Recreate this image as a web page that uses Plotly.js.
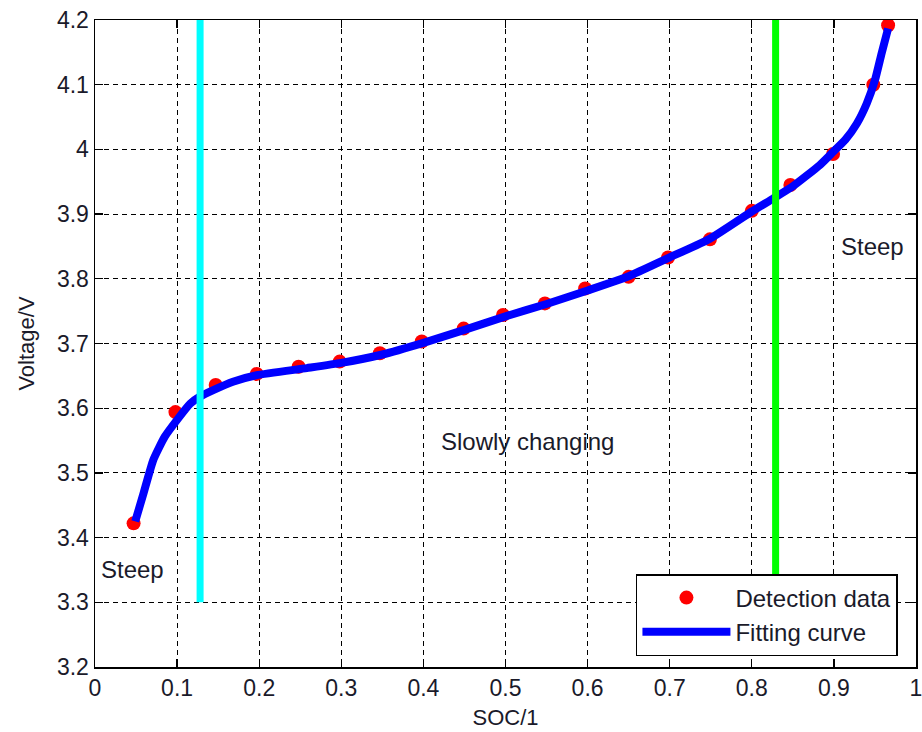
<!DOCTYPE html>
<html>
<head>
<meta charset="utf-8">
<script src="https://cdn.plot.ly/plotly-3.0.1.min.js"></script>
<style>html,body{margin:0;padding:0;background:#fff;}#chart{width:922px;height:732px;}</style>
</head>
<body>
<div id="chart"></div>
<script>
// Detection data (SOC, voltage)
var socData = [0.047,0.098,0.147,0.197,0.248,0.298,0.347,0.398,0.449,0.497,0.548,0.597,0.650,0.698,0.749,0.800,0.847,0.899,0.948,0.966];
var vData   = [3.422,3.594,3.636,3.653,3.664,3.672,3.685,3.703,3.723,3.744,3.762,3.785,3.803,3.833,3.861,3.905,3.945,3.993,4.100,4.192];

// Fitting curve
var socFit = [0.049,0.059,0.071,0.085,0.100,0.116,0.128,0.144,0.168,0.197,0.258,0.300,0.350,0.400,0.450,0.500,0.550,0.600,0.650,0.698,0.749,0.800,0.826,0.850,0.883,0.899,0.914,0.928,0.940,0.950,0.958,0.966];
var vFit   = [3.425,3.468,3.520,3.556,3.582,3.607,3.618,3.628,3.641,3.651,3.662,3.670,3.683,3.701,3.721,3.742,3.761,3.782,3.804,3.832,3.862,3.904,3.924,3.943,3.976,3.996,4.015,4.040,4.071,4.107,4.148,4.187];

// Region boundary lines
var cyanX = [0.128, 0.128];
var greenX = [0.829, 0.829];
var boundaryY = [3.3, 4.2];

// Labels
var legendNames = ["Detection data", "Fitting curve"];
var regionLabels = ["Steep", "Slowly changing", "Steep"];
var labelX = [0.046, 0.527, 0.947];
var labelY = [3.350, 3.548, 3.850];

var xTicks = [0,0.1,0.2,0.3,0.4,0.5,0.6,0.7,0.8,0.9,1];
var xTickText = ["0","0.1","0.2","0.3","0.4","0.5","0.6","0.7","0.8","0.9","1"];
var yTicks = [3.2,3.3,3.4,3.5,3.6,3.7,3.8,3.9,4.0,4.1,4.2];
var yTickText = ["3.2","3.3","3.4","3.5","3.6","3.7","3.8","3.9","4","4.1","4.2"];

var FONT = "Liberation Sans, Arial, sans-serif";
var TXT = "#1a1a2a";

var traces = [
  {x: socData, y: vData, mode: "markers", type: "scatter", name: legendNames[0],
   marker: {color: "#ff0000", size: 14, symbol: "circle"}},
  {x: socFit, y: vFit, mode: "lines", type: "scatter", name: legendNames[1],
   line: {color: "#0000ff", width: 8, shape: "spline", smoothing: 0.5}},
  {x: cyanX, y: boundaryY, mode: "lines", type: "scatter", showlegend: false,
   line: {color: "#00ffff", width: 7}},
  {x: greenX, y: boundaryY, mode: "lines", type: "scatter", showlegend: false,
   line: {color: "#00ff00", width: 7}}
];

var annotations = regionLabels.map(function(t, i){
  return {x: labelX[i], y: labelY[i], xref: "x", yref: "y", text: t, showarrow: false,
          font: {family: FONT, size: 24, color: TXT}, xanchor: "center", yanchor: "middle"};
});

var axisCommon = {
  showline: true, linecolor: "#000", linewidth: 1.5, mirror: "ticks",
  ticks: "inside", ticklen: 8, tickwidth: 1.3, tickcolor: "#000",
  showgrid: true, gridcolor: "#000", gridwidth: 1, griddash: "5px,4px",
  zeroline: false, tickfont: {family: FONT, size: 23, color: TXT},
  ticklabeloverflow: "allow"
};

var layout = {
  width: 922, height: 732,
  margin: {l: 95, r: 6, t: 20, b: 65},
  paper_bgcolor: "#fff", plot_bgcolor: "#fff",
  showlegend: true,
  xaxis: Object.assign({}, axisCommon, {
    range: [0, 1], tickvals: xTicks, ticktext: xTickText,
    title: {text: "SOC/1", font: {family: FONT, size: 22, color: TXT}, standoff: 9}
  }),
  yaxis: Object.assign({}, axisCommon, {
    range: [3.2, 4.2], tickvals: yTicks, ticktext: yTickText,
    title: {text: "Voltage/V", font: {family: FONT, size: 22, color: TXT}, standoff: 16}
  }),
  legend: {
    x: 0.978, y: 0.017, xanchor: "right", yanchor: "bottom",
    bgcolor: "#fff", bordercolor: "#000", borderwidth: 1.5,
    font: {family: FONT, size: 24, color: TXT},
    itemwidth: 88, tracegroupgap: 0
  },
  annotations: annotations
};

Plotly.newPlot("chart", traces, layout, {displayModeBar: false, staticPlot: true});
</script>
</body>
</html>
